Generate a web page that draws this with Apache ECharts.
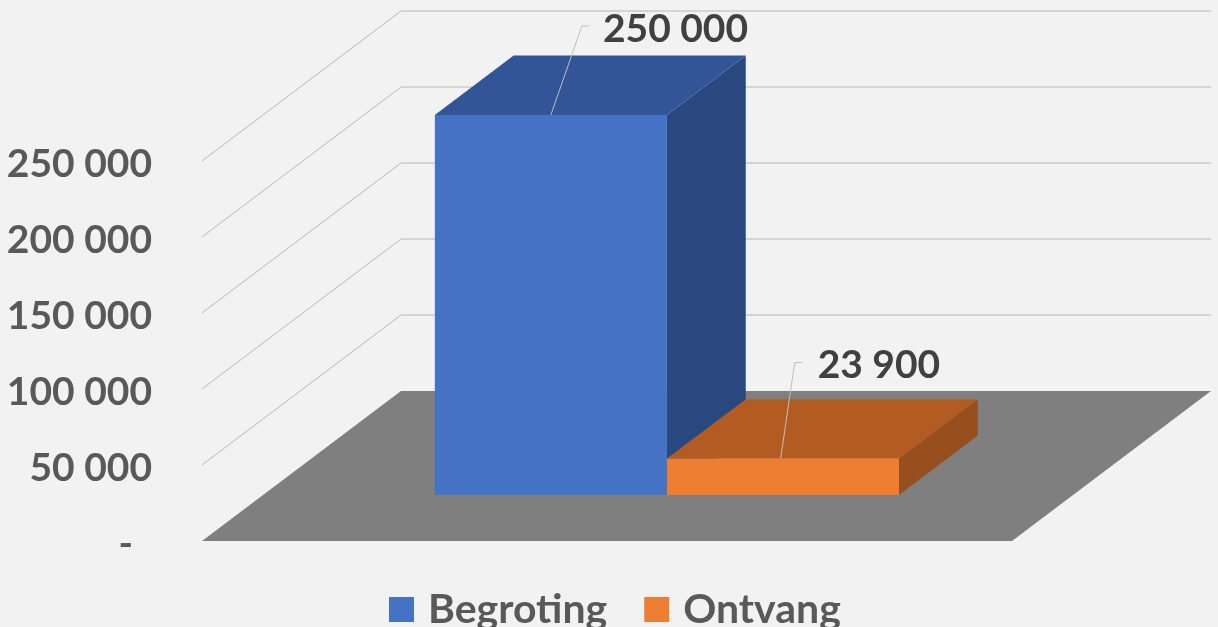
<!DOCTYPE html>
<html>
<head>
<meta charset="utf-8">
<script src="https://cdn.jsdelivr.net/npm/echarts@6/dist/echarts.min.js"></script>
<style>
  html, body { margin: 0; padding: 0; background: #f2f2f2; }
  #chart { width: 1218px; height: 627px; }
</style>
</head>
<body>
<div id="chart"></div>
<script>
const categories = ['Begroting', 'Ontvang'];
const values = [250000, 23900];
const yTicks = [50000, 100000, 150000, 200000, 250000];

// pixel shift of the 3D depth (front of floor to back wall)
const DEPTH_X = 199;
const DEPTH_Y = -150;
// where the bars stand in the depth, 0 = front, 1 = back
const BAR_NEAR = 0.307;
const BAR_FAR = 0.703;

const frontColors = ['#4472c4', '#ed7d31'];
const topColors = ['#315597', '#b35c22'];
const sideColors = ['#2a4880', '#974f1d'];

// leader line offsets from the top of the bar, and where the label sits
const leaders = [
  { startX: 0.5, dx: 31, dy: -89, tail: 7, gap: 14 },
  { startX: 0.49, dx: 14, dy: -96, tail: 8, gap: 15 }
];

const fmt = v => String(v).replace(/\B(?=(\d{3})+$)/g, ' ');

function shift(p, t) {
  return [p[0] + DEPTH_X * t, p[1] + DEPTH_Y * t];
}

function poly(points, fill) {
  return { type: 'polygon', shape: { points }, style: { fill } };
}

function renderFloor(params, api) {
  const a = api.coord([-0.74, 0]);
  const b = api.coord([2.75, 0]);
  return poly([a, b, shift(b, 1), shift(a, 1)], '#7f7f7f');
}

function renderGrid(params, api) {
  const y = api.value(0);
  const a = api.coord([-0.74, y]);
  const b = api.coord([2.75, y]);
  return {
    type: 'polyline',
    shape: { points: [a, shift(a, 1), shift(b, 1)] },
    style: { stroke: '#b8b8b8', lineWidth: 1, fill: 'none' }
  };
}

function renderBar(params, api) {
  const i = api.value(0);
  const v = api.value(1);
  const idx = categories.indexOf(params.seriesName);
  const bl = shift(api.coord([i, 0]), BAR_NEAR);
  const br = shift(api.coord([i + 1, 0]), BAR_NEAR);
  const tl = shift(api.coord([i, v]), BAR_NEAR);
  const tr = shift(api.coord([i + 1, v]), BAR_NEAR);
  const d = BAR_FAR - BAR_NEAR;

  const l = leaders[idx];
  const s = [tl[0] + (tr[0] - tl[0]) * l.startX, tl[1]];
  const m = [s[0] + l.dx, s[1] + l.dy];
  const e = [m[0] + l.tail, m[1]];

  return {
    type: 'group',
    children: [
      poly([tr, br, shift(br, d), shift(tr, d)], sideColors[idx]),
      poly([tl, tr, shift(tr, d), shift(tl, d)], topColors[idx]),
      poly([tl, tr, br, bl], frontColors[idx]),
      {
        type: 'polyline',
        shape: { points: [s, m, e] },
        style: { stroke: '#bfbfbf', lineWidth: 1, fill: 'none' }
      },
      {
        type: 'text',
        x: e[0] + l.gap,
        y: e[1] + 3,
        style: {
          text: fmt(v),
          fill: '#404040',
          font: 'bold 39px Lato',
          textAlign: 'left',
          textVerticalAlign: 'middle'
        }
      }
    ]
  };
}

const chart = echarts.init(document.getElementById('chart'));

chart.setOption({
  animation: false,
  backgroundColor: '#f2f2f2',
  legend: {
    data: categories,
    top: 584,
    left: 384,
    icon: 'rect',
    itemWidth: 25,
    itemHeight: 25,
    itemGap: 37,
    textStyle: {
      color: '#595959',
      fontFamily: 'Lato',
      fontWeight: 'bold',
      fontSize: 41,
      padding: [0, 0, 0, 9]
    }
  },
  grid: { left: 202, right: 206, top: 161, bottom: 86 },
  xAxis: { type: 'value', min: -0.74, max: 2.75, show: false },
  yAxis: {
    type: 'value',
    min: 0,
    max: 250000,
    interval: 50000,
    axisLine: { show: false },
    axisTick: { show: false },
    splitLine: { show: false },
    axisLabel: {
      margin: 50,
      color: '#595959',
      fontFamily: 'Lato',
      fontWeight: 'bold',
      fontSize: 39,
      verticalAlign: 'top',
      lineHeight: 6,
      formatter: v => (v === 0 ? '-  ' : fmt(v))
    }
  },
  series: [
    {
      type: 'custom',
      name: 'floor',
      silent: true,
      coordinateSystem: 'cartesian2d',
      renderItem: renderFloor,
      data: [0],
      z: 1
    },
    {
      type: 'custom',
      name: 'grid',
      silent: true,
      coordinateSystem: 'cartesian2d',
      renderItem: renderGrid,
      encode: { y: 0 },
      data: yTicks.map(t => [t]),
      z: 2
    },
    ...categories.map((name, i) => ({
      type: 'custom',
      name,
      coordinateSystem: 'cartesian2d',
      renderItem: renderBar,
      itemStyle: { color: frontColors[i] },
      encode: { x: 0, y: 1 },
      data: [[i, values[i]]],
      z: 3 + i
    }))
  ]
});
</script>
</body>
</html>
